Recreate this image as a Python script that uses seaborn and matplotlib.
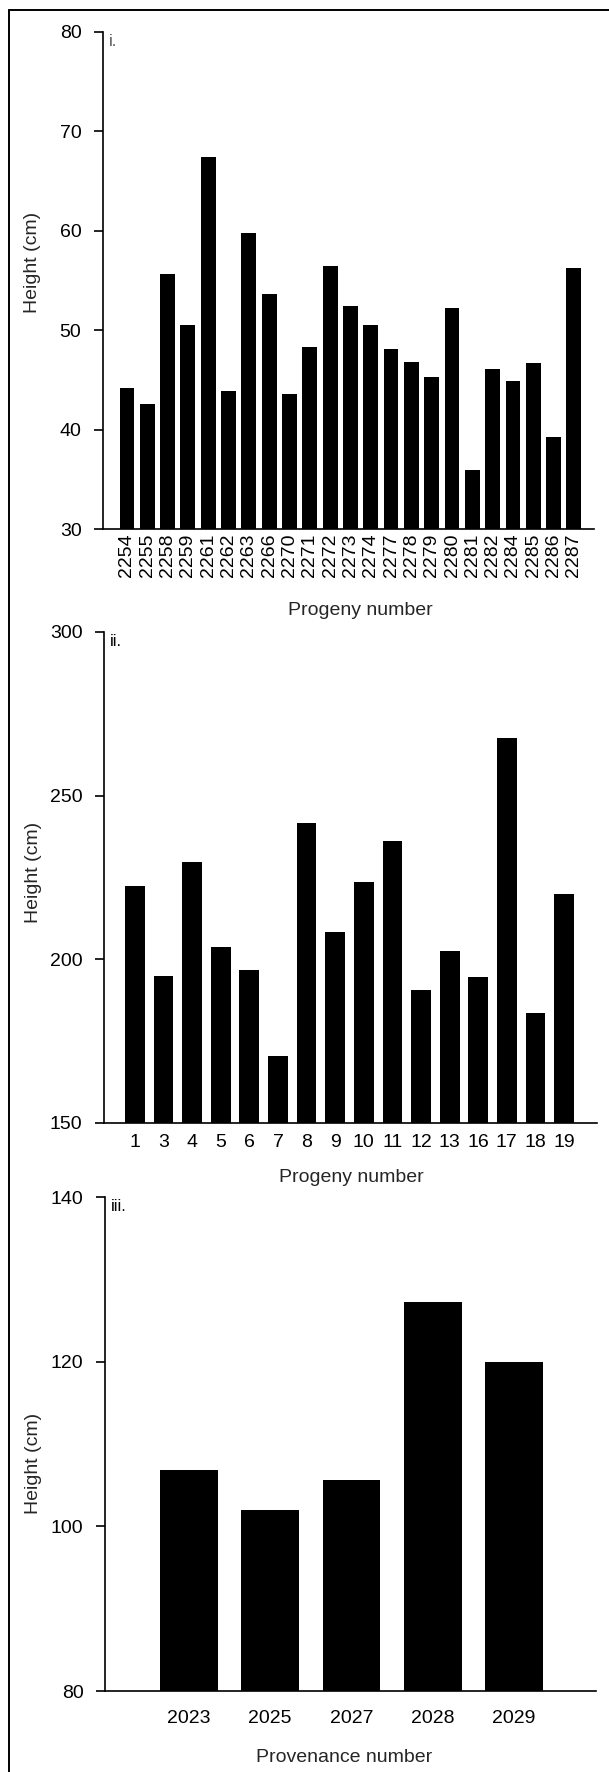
import matplotlib
matplotlib.use("Agg")
import matplotlib.pyplot as plt
import seaborn as sns
import pandas as pd
from matplotlib.lines import Line2D

# ---- data ----
prog_i = ["2254", "2255", "2258", "2259", "2261", "2262", "2263", "2266", "2270",
          "2271", "2272", "2273", "2274", "2277", "2278", "2279", "2280", "2281",
          "2282", "2284", "2285", "2286", "2287"]
height_i = [44.2, 42.6, 55.7, 50.5, 67.4, 43.9, 59.8, 53.6, 43.6,
            48.3, 56.5, 52.4, 50.5, 48.1, 46.8, 45.3, 52.2, 35.9,
            46.1, 44.9, 46.7, 39.3, 56.3]

prog_ii = ["1", "3", "4", "5", "6", "7", "8", "9", "10", "11", "12", "13",
           "16", "17", "18", "19"]
height_ii = [222.5, 195.0, 229.6, 203.8, 196.8, 170.5, 241.7, 208.2, 223.5,
             236.0, 190.5, 202.6, 194.5, 267.7, 183.7, 220.1]

prov_iii = ["2023", "2025", "2027", "2028", "2029"]
height_iii = [106.9, 102.0, 105.6, 127.3, 120.0]

sns.set_style("ticks")
plt.rcParams["font.family"] = ["Liberation Sans", "DejaVu Sans"]
plt.rcParams["axes.linewidth"] = 1.2

W, H = 609, 1772
fig = plt.figure(figsize=(W / 100, H / 100), dpi=100)


def add_ax(left, right, top, bottom):
    return fig.add_axes([left / W, 1 - bottom / H, (right - left) / W, (bottom - top) / H])


panels = [
    dict(cats=prog_i, vals=height_i, box=(103, 594, 32, 529), ylim=(30, 80),
         ticks=[30, 40, 50, 60, 70, 80], xlim=(-1.18, 22.99), width=0.73,
         rot=90, xpad=3, xlabel="Progeny number", xl=(0.524, -0.163),
         yl=(-0.1426, 0.537), tag="i.", tagcolor="#555555"),
    dict(cats=prog_ii, vals=height_ii, box=(104, 597, 632, 1123), ylim=(150, 300),
         ticks=[150, 200, 250, 300], xlim=(-1.08, 16.15), width=0.69,
         rot=0, xpad=8, xlabel="Progeny number", xl=(0.502, -0.110),
         yl=(-0.144, 0.511), tag="ii.", tagcolor="black"),
    dict(cats=prov_iii, vals=height_iii, box=(105, 596, 1197, 1691), ylim=(80, 140),
         ticks=[80, 100, 120, 140], xlim=(-1.034, 5.01), width=0.71,
         rot=0, xpad=14, xlabel="Provenance number", xl=(0.488, -0.1356),
         yl=(-0.1466, 0.46), tag="iii.", tagcolor="black"),
]

for p in panels:
    ax = add_ax(*p["box"])
    df = pd.DataFrame({"cat": p["cats"], "val": p["vals"]})
    sns.barplot(data=df, x="cat", y="val", order=p["cats"], color="black",
                width=p["width"], errorbar=None, saturation=1, ax=ax,
                edgecolor="none", linewidth=0)
    ax.set_ylim(*p["ylim"])
    ax.set_xlim(*p["xlim"])
    ax.set_yticks(p["ticks"])
    sns.despine(ax=ax)
    ax.tick_params(axis="y", direction="out", length=6.5, width=1.2, pad=9,
                   labelsize=14, colors="black")
    ax.tick_params(axis="x", length=0, pad=p["xpad"], labelsize=14,
                   labelrotation=p["rot"], colors="black")
    ax.set_xlabel(p["xlabel"], fontsize=14)
    ax.set_ylabel("Height (cm)", fontsize=14)
    ax.xaxis.set_label_coords(*p["xl"])
    ax.xaxis.label.set_va("center")
    ax.yaxis.set_label_coords(*p["yl"])
    ax.yaxis.label.set_va("center")
    ax.text(0.012, 0.995, p["tag"], transform=ax.transAxes, ha="left", va="top",
            fontsize=12, color=p["tagcolor"])
    for s in ax.spines.values():
        s.set_color("black")

# page frame (left and top edges of the scanned figure)
fig.add_artist(Line2D([8.5 / W, 8.5 / W], [0, 1 - 10 / H], color="black",
                      linewidth=1.4, transform=fig.transFigure))
fig.add_artist(Line2D([8.5 / W, 1], [1 - 10 / H, 1 - 10 / H], color="black",
                      linewidth=1.4, transform=fig.transFigure))

fig.savefig("out.png", dpi=100)
